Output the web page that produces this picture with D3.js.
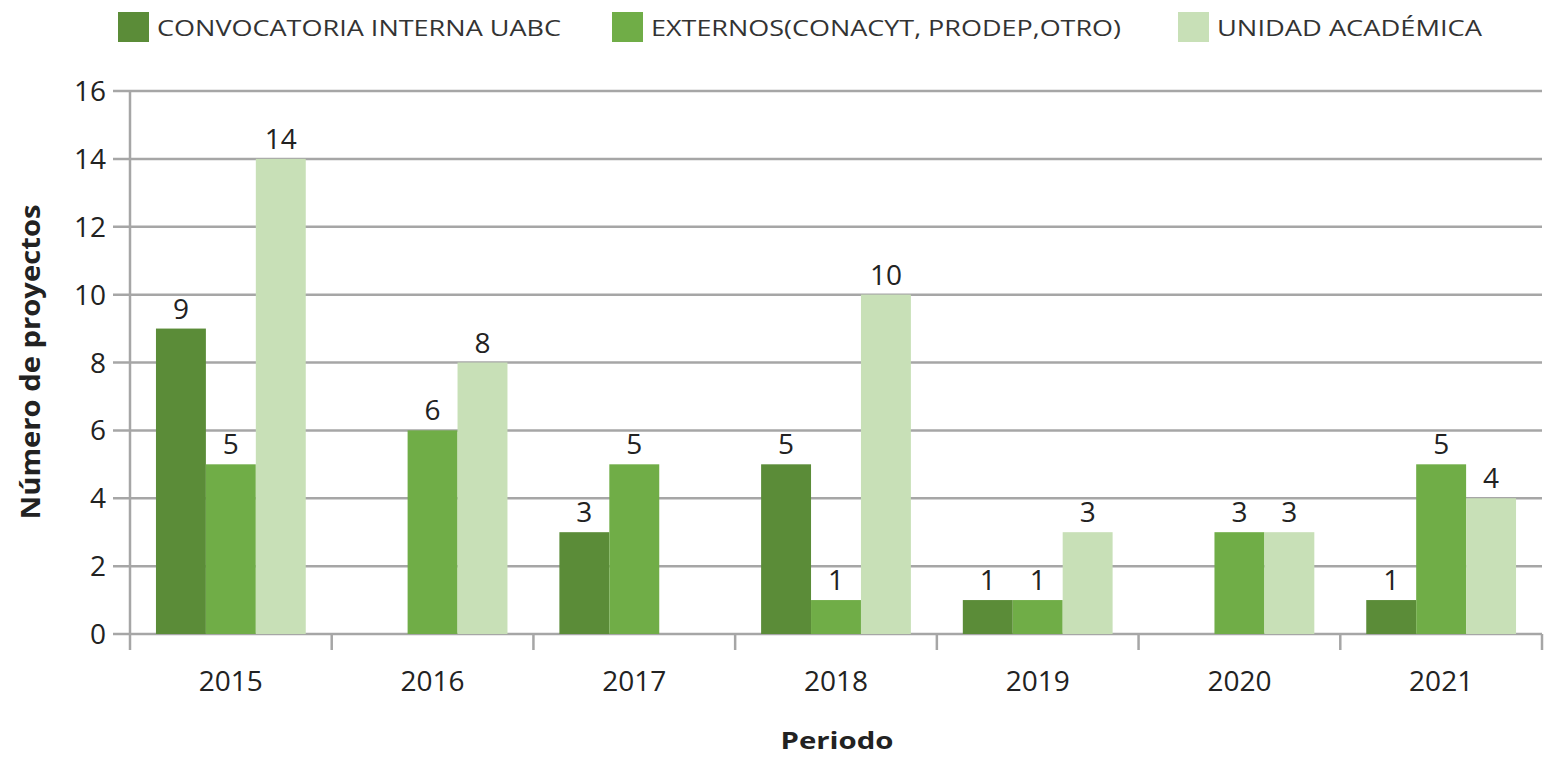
<!DOCTYPE html>
<html><head><meta charset="utf-8">
<script src="https://cdn.jsdelivr.net/npm/d3@7"></script>
<style>body{margin:0;background:#fff}svg{display:block}text{font-family:"Open Sans","Noto Sans",sans-serif;fill:#222}</style>
</head><body><svg id="c" width="1546" height="758"></svg>
<script>
const years = ["2015","2016","2017","2018","2019","2020","2021"];
const seriesNames = ["CONVOCATORIA INTERNA UABC","EXTERNOS(CONACYT, PRODEP,OTRO)","UNIDAD ACADÉMICA"];
const convocatoria = [9,0,3,5,1,0,1];
const externos = [5,6,5,1,1,3,5];
const unidad = [14,8,0,10,3,3,4];
const yTicks = [0,2,4,6,8,10,12,14,16];
const colors = ["#5b8c38","#70ad47","#c8e0b7"];
const series = [convocatoria, externos, unidad];

const svg = d3.select("#c");
const L=130, R=1542, T=91, B=634;
const x = d3.scaleBand().domain(years).range([L,R]).paddingInner(0).paddingOuter(0);
const xi = d3.scaleBand().domain([0,1,2]).range([0,x.bandwidth()]).paddingOuter(0.52).paddingInner(0);
const y = d3.scaleLinear().domain([0,16]).range([B,T]);

// gridlines
const g = svg.append("g");
g.selectAll("line.grid").data(yTicks).join("line")
 .attr("x1",113).attr("x2",R).attr("y1",d=>y(d)).attr("y2",d=>y(d))
 .attr("stroke","#a6a6a6").attr("stroke-width",2.5);
// y axis line
g.append("line").attr("x1",L).attr("x2",L).attr("y1",T).attr("y2",650).attr("stroke","#a6a6a6").attr("stroke-width",2.5);
// x tick marks at boundaries
const bounds = years.map(d=>x(d)).concat([R]);
g.selectAll("line.xt").data(bounds.slice(1)).join("line")
 .attr("x1",d=>d).attr("x2",d=>d).attr("y1",B).attr("y2",650).attr("stroke","#a6a6a6").attr("stroke-width",2.5);

// y tick labels
svg.append("g").selectAll("text").data(yTicks).join("text")
 .attr("x",106).attr("y",d=>y(d)).attr("dy","0.36em").attr("text-anchor","end")
 .style("font-size","28px").text(d=>d);

// bars
series.forEach((vals,si)=>{
  const gs = svg.append("g");
  const data = years.map((yr,i)=>({yr,v:vals[i]})).filter(d=>d.v>0);
  gs.selectAll("rect").data(data).join("rect")
   .attr("x",d=>x(d.yr)+xi(si)).attr("width",xi.bandwidth())
   .attr("y",d=>y(d.v)).attr("height",d=>B-y(d.v)).attr("fill",colors[si]);
  gs.selectAll("text").data(data).join("text")
   .attr("x",d=>x(d.yr)+xi(si)+xi.bandwidth()/2).attr("y",d=>y(d.v)-10)
   .attr("text-anchor","middle").style("font-size","28px").text(d=>d.v);
});

// x labels
svg.append("g").selectAll("text").data(years).join("text")
 .attr("x",d=>x(d)+x.bandwidth()/2).attr("y",691).attr("text-anchor","middle")
 .style("font-size","28px").text(d=>d);

// axis titles
svg.append("text").attr("x",837).attr("y",749).attr("text-anchor","middle")
 .attr("textLength",113).attr("lengthAdjust","spacingAndGlyphs")
 .style("font-size","24px").style("font-weight","bold").text("Periodo");
svg.append("text").attr("transform","translate(40,362) rotate(-90)").attr("text-anchor","middle")
 .attr("textLength",315).attr("lengthAdjust","spacingAndGlyphs")
 .style("font-size","26px").style("font-weight","bold").text("Número de proyectos");

// legend
const legX=[118,612,1178], legW=[404,470,265];
seriesNames.forEach((n,i)=>{
  svg.append("rect").attr("x",legX[i]).attr("y",12).attr("width",31).attr("height",30).attr("fill",colors[i]);
  svg.append("text").attr("x",legX[i]+39).attr("y",28).attr("dy","0.36em")
   .attr("textLength",legW[i]).attr("lengthAdjust","spacingAndGlyphs")
   .style("font-size","22px").style("fill","#333").text(n);
});
</script></body></html>
